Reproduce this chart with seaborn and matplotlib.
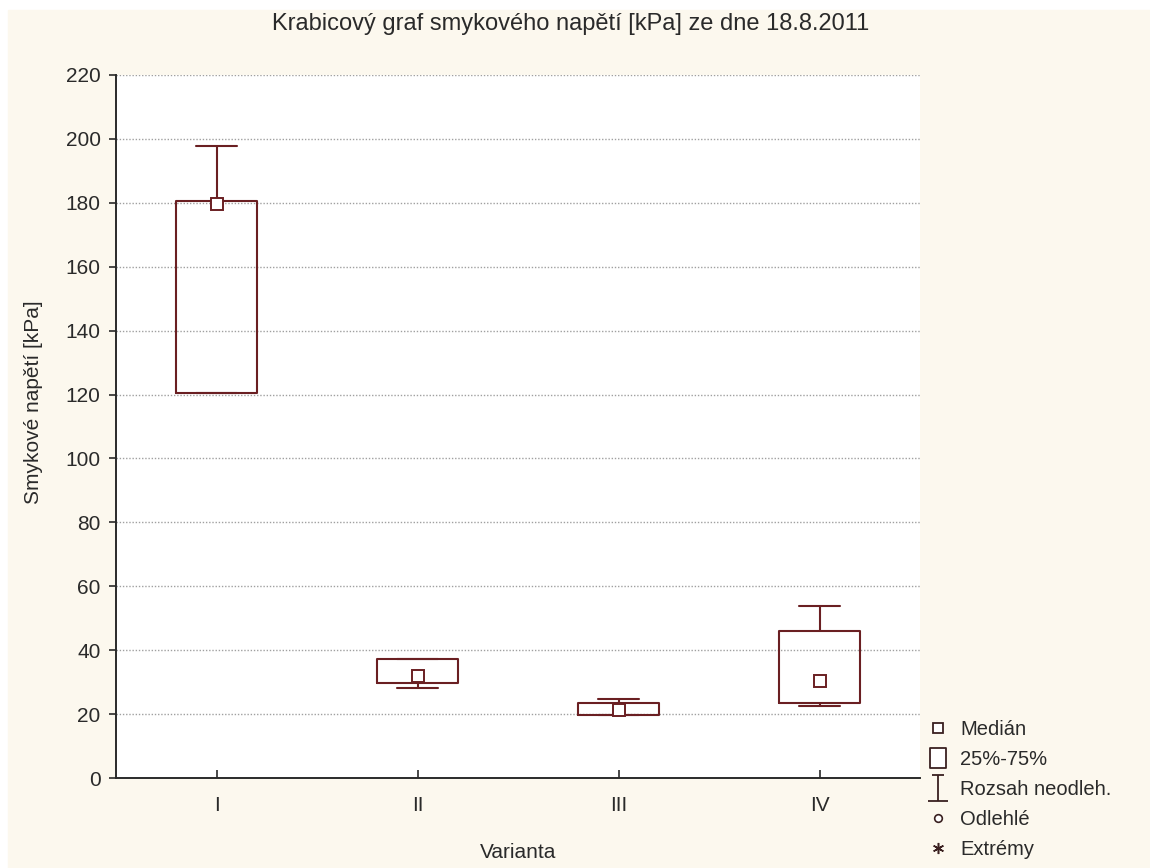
import numpy as np
import pandas as pd
import matplotlib
matplotlib.use("Agg")
import matplotlib.pyplot as plt
import seaborn as sns
from matplotlib.lines import Line2D
from matplotlib.path import Path
from matplotlib.patches import Rectangle

# Five-number summaries of shear stress [kPa] per variant
variants = ["I", "II", "III", "IV"]
whisker_low = [120.6, 28.3, 19.7, 22.4]
q1 = [120.6, 29.6, 19.7, 23.4]
median = [179.7, 31.8, 21.3, 30.4]
q3 = [180.6, 37.3, 23.4, 46.1]
whisker_high = [197.8, 37.3, 24.7, 53.7]

yticks = list(range(0, 221, 20))

rows = []
for i, v in enumerate(variants):
    for val in (whisker_low[i], q1[i], median[i], q3[i], whisker_high[i]):
        rows.append({"Varianta": v, "value": val})
df = pd.DataFrame(rows)

maroon = "#6a1f22"
cream = "#fcf8ee"
ink = "#2a2a2a"
mark = "#3a2020"

sns.set_theme(style="white")
plt.rcParams["font.family"] = ["Liberation Sans", "DejaVu Sans"]

fig = plt.figure(figsize=(11.5, 8.68), dpi=100, facecolor="white")
fig.patches.append(Rectangle((8 / 1150, 0), 1, (868 - 10) / 868,
                             transform=fig.transFigure, color=cream, zorder=-10))
ax = fig.add_axes([116 / 1150, 90 / 868, 804 / 1150, 703 / 868])
ax.set_facecolor("white")

sns.boxplot(data=df, x="Varianta", y="value", order=variants, width=0.4,
            whis=np.inf, fill=False, color=maroon, linewidth=1.5,
            showfliers=False, medianprops={"visible": False}, ax=ax)

sns.pointplot(x=variants, y=median, order=variants, linestyle="none",
              marker="s", markersize=9, color=maroon, markerfacecolor="white",
              markeredgecolor=maroon, markeredgewidth=1.4, errorbar=None,
              zorder=5, ax=ax)

ax.set_xlim(-0.5, 3.5)
ax.set_ylim(0, 220)
ax.set_yticks(yticks)
ax.set_xticks(range(len(variants)))
ax.set_xticklabels(variants)
ax.yaxis.grid(True, color="#a0a0a0", linestyle=(0, (1, 1.3)), linewidth=1.0)
ax.xaxis.grid(False)
ax.set_axisbelow(True)

for s in ("top", "right"):
    ax.spines[s].set_visible(False)
for s in ("left", "bottom"):
    ax.spines[s].set_color(ink)
    ax.spines[s].set_linewidth(1.4)

ax.tick_params(axis="y", direction="out", length=5, width=1.2, left=True,
               labelsize=15, colors=ink, pad=6)
ax.tick_params(axis="x", direction="in", length=6, width=1.2, bottom=True,
               labelsize=15, colors=ink, pad=13)

ax.set_xlabel("Varianta", fontsize=15, color=ink, labelpad=20)
ax.set_ylabel("Smykové napětí [kPa]", fontsize=15, color=ink, labelpad=16)
ax.yaxis.label.set_y((778 - 402) / 703)

fig.text(571 / 1150, 1 - 24 / 868, "Krabicový graf smykového napětí [kPa] ze dne 18.8.2011",
         ha="center", va="center", fontsize=17, color=ink)

# I-beam symbol for the non-outlier range
ibeam = Path([(-0.45, 1), (0.45, 1), (0, 1), (0, -1), (-0.75, -1), (0.75, -1)],
             [Path.MOVETO, Path.LINETO, Path.MOVETO, Path.LINETO, Path.MOVETO, Path.LINETO])
# Upright rectangle for the quartile box
qbox = Path([(-0.8, -1), (0.8, -1), (0.8, 1), (-0.8, 1), (-0.8, -1)],
            [Path.MOVETO, Path.LINETO, Path.LINETO, Path.LINETO, Path.CLOSEPOLY])

handles = [
    Line2D([], [], linestyle="none", marker="s", markersize=6.5,
           markerfacecolor="white", markeredgecolor=mark, markeredgewidth=1.3),
    Line2D([], [], linestyle="none", marker=qbox, markersize=15,
           markerfacecolor="white", markeredgecolor=mark, markeredgewidth=1.3),
    Line2D([], [], linestyle="none", marker=ibeam, markersize=19,
           markerfacecolor="none", markeredgecolor=mark, markeredgewidth=1.3),
    Line2D([], [], linestyle="none", marker="o", markersize=5.5,
           markerfacecolor="white", markeredgecolor=mark, markeredgewidth=1.2),
    Line2D([], [], linestyle="none", marker=(6, 2, 0), markersize=8,
           markeredgecolor=mark, markeredgewidth=1.1),
]
labels = ["Medián", "25%-75%", "Rozsah neodleh.", "Odlehlé", "Extrémy"]
fig.legend(handles, labels, loc="upper left", bbox_to_anchor=(918 / 1150, 1 - 710 / 868),
           frameon=False, fontsize=14.5, handlelength=1.0, handletextpad=0.6,
           labelspacing=0.54, borderpad=0, labelcolor=ink)

fig.savefig("out.png", dpi=100, facecolor=fig.get_facecolor())
